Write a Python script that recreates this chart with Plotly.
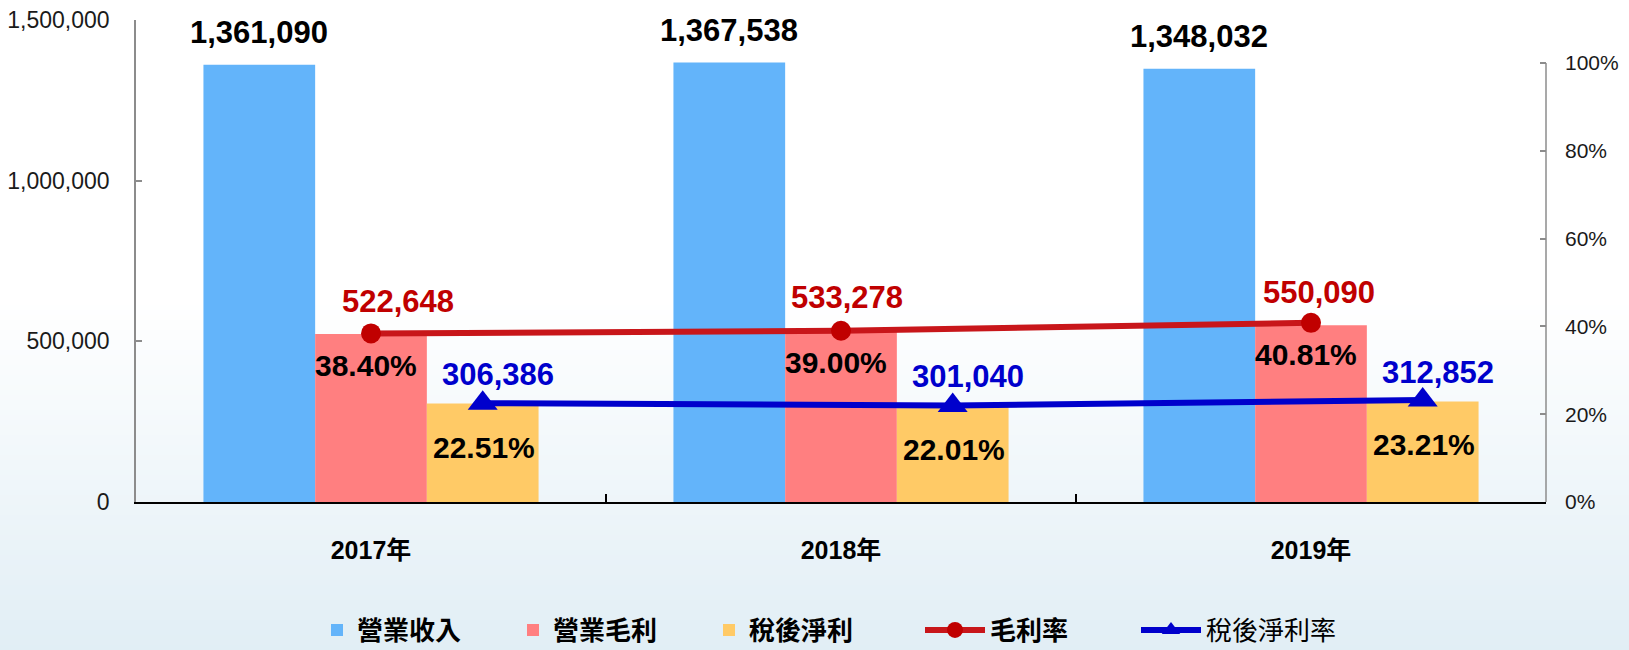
import plotly.graph_objects as go

# ---------------- data ----------------
years = ["2017年", "2018年", "2019年"]
revenue = [1361090, 1367538, 1348032]        # 營業收入
gross_profit = [522648, 533278, 550090]      # 營業毛利
net_profit = [306386, 301040, 312852]        # 稅後淨利
gross_margin = [0.3840, 0.3900, 0.4081]      # 毛利率
net_margin = [0.2251, 0.2201, 0.2321]        # 稅後淨利率
left_ticks = [0, 500000, 1000000, 1500000]
right_ticks = [0, 0.2, 0.4, 0.6, 0.8, 1.0]

# ---------------- layout constants ----------------
W, H = 1629, 650
ML, MR, MT, MB = 136, 83, 20, 148
PW, PH = W - ML - MR, H - MT - MB
BARGAP = 0.287
D = (1 - BARGAP) / 3          # width of one bar in category units
Y2MAX = 1.0 * (PH) / (502 - 63)

FONT_NUM = "Liberation Sans, Arial, sans-serif"
FONT_CJK = "Noto Sans CJK TC, sans-serif"

C_BLUE_BAR = "#63B4FA"
C_RED_BAR = "#FF7F80"
C_YEL_BAR = "#FFCA66"
C_RED_LINE = "#C8161A"
C_RED_MK = "#C00000"
C_BLUE_LINE = "#0000CC"

fig = go.Figure()

fig.add_trace(go.Bar(x=years, y=revenue, name="<b>營業收入</b>", marker=dict(color=C_BLUE_BAR, line=dict(width=0)),
                     legend="legend"))
fig.add_trace(go.Bar(x=years, y=gross_profit, name="<b>營業毛利</b>", marker=dict(color=C_RED_BAR, line=dict(width=0)),
                     legend="legend2"))
fig.add_trace(go.Bar(x=years, y=net_profit, name="<b>稅後淨利</b>", marker=dict(color=C_YEL_BAR, line=dict(width=0)),
                     legend="legend3"))
fig.add_trace(go.Scatter(x=years, y=gross_margin, name="<b>毛利率</b>", yaxis="y2", mode="lines+markers",
                         line=dict(color=C_RED_LINE, width=6),
                         marker=dict(symbol="circle", size=20, color=C_RED_MK),
                         legend="legend4"))
fig.add_trace(go.Scatter(x=years, y=net_margin, name="稅後淨利率", xaxis="x2", yaxis="y2", mode="lines+markers",
                         line=dict(color=C_BLUE_LINE, width=6),
                         marker=dict(symbol="triangle-up", size=26, color=C_BLUE_LINE),
                         legend="legend5"))

# ---------------- background gradient ----------------
shapes = []
g0, g1 = 300, 650
n = 70
top = (255, 255, 255)
bot = (225, 238, 245)
for i in range(n):
    ya = g0 + (g1 - g0) * i / n
    yb = g0 + (g1 - g0) * (i + 1) / n + 0.6
    t = (i + 0.5) / n
    col = tuple(round(top[k] + (bot[k] - top[k]) * t) for k in range(3))
    shapes.append(dict(type="rect", xref="paper", yref="paper", layer="below",
                       x0=-ML / PW - 0.01, x1=(W - ML) / PW + 0.01,
                       y0=(MT + PH - ya) / PH, y1=(MT + PH - yb) / PH,
                       line=dict(width=0), fillcolor="rgb(%d,%d,%d)" % col))
# right axis line (only spans 0%..100%)
shapes.append(dict(type="line", xref="paper", yref="y2", x0=1, x1=1, y0=0, y1=1,
                   line=dict(color="#8C8C8C", width=1.5)))

# ---------------- annotations ----------------
ann = []
red_dx = [27, 6, 8]
for i in range(len(years)):
    ann.append(dict(x=i - D, y=revenue[i], xref="x", yref="y", text="<b>{:,}</b>".format(revenue[i]),
                    showarrow=False, yshift=32, yanchor="middle",
                    font=dict(family=FONT_NUM, size=31, color="#000000")))
    ann.append(dict(x=i, y=gross_profit[i], xref="x", yref="y", text="<b>{:,}</b>".format(gross_profit[i]),
                    showarrow=False, yshift=33, xshift=red_dx[i], yanchor="middle",
                    font=dict(family=FONT_NUM, size=31, color=C_RED_MK)))
    ann.append(dict(x=i + D, y=net_profit[i], xref="x", yref="y", text="<b>{:,}</b>".format(net_profit[i]),
                    showarrow=False, yshift=29, xshift=15, yanchor="middle",
                    font=dict(family=FONT_NUM, size=31, color=C_BLUE_LINE)))
    ann.append(dict(x=i, y=gross_margin[i], xref="x", yref="y2", text="<b>{:.2f}%</b>".format(gross_margin[i] * 100),
                    showarrow=False, yshift=-32, xshift=-5, yanchor="middle",
                    font=dict(family=FONT_NUM, size=30, color="#000000")))
    ann.append(dict(x=i, y=net_margin[i], xref="x2", yref="y2", text="<b>{:.2f}%</b>".format(net_margin[i] * 100),
                    showarrow=False, yshift=-44, xshift=1, yanchor="middle",
                    font=dict(family=FONT_NUM, size=30, color="#000000")))

# ---------------- legends ----------------
LEG_Y = -(630 - (MT + PH)) / PH


def leg(px, itemwidth=30):
    return dict(x=(px - ML) / PW, y=LEG_Y, xanchor="left", yanchor="middle", orientation="h",
                bgcolor="rgba(0,0,0,0)", itemwidth=itemwidth,
                font=dict(family=FONT_CJK, size=26, color="#000000"))


fig.update_layout(
    width=W, height=H,
    margin=dict(l=ML, r=MR, t=MT, b=MB, autoexpand=False),
    paper_bgcolor="#FFFFFF", plot_bgcolor="rgba(0,0,0,0)",
    barmode="group", bargap=BARGAP, bargroupgap=0,
    shapes=shapes, annotations=ann,
    showlegend=True,
    legend=leg(317), legend2=leg(513), legend3=leg(709),
    legend4=leg(920, 60), legend5=leg(1136, 60),
    xaxis=dict(type="category", categoryorder="array", categoryarray=years, range=[-0.5, 2.5],
               tickson="boundaries", ticks="inside", ticklen=8, tickwidth=1.5, tickcolor="#000000",
               showline=True, linecolor="#000000", linewidth=1.5, showgrid=False, zeroline=False,
               ticklabelstandoff=25,
               tickfont=dict(family=FONT_NUM + ", " + FONT_CJK, size=25, color="#000000", weight="bold")),
    xaxis2=dict(type="category", categoryorder="array", categoryarray=years, overlaying="x",
                range=[-0.5 - D, 2.5 - D], visible=False),
    yaxis=dict(range=[0, 1500000], tickvals=left_ticks, tickformat=",", showline=True, linecolor="#8C8C8C",
               linewidth=1.5, ticks="inside", ticklen=6, tickwidth=1.5, tickcolor="#8C8C8C", showgrid=False,
               zeroline=False, ticklabelstandoff=20,
               tickfont=dict(family=FONT_NUM, size=23, color="#1A1A1A")),
    yaxis2=dict(range=[0, Y2MAX], tickvals=right_ticks, tickformat=".0%", overlaying="y", side="right",
                anchor="x", showline=False, ticks="inside", ticklen=6, tickwidth=1.5, tickcolor="#8C8C8C",
                showgrid=False, zeroline=False, ticklabelstandoff=18,
                tickfont=dict(family=FONT_NUM, size=21, color="#1A1A1A")),
)

fig.write_html("out.html", config={"displayModeBar": False},
               post_script="document.body.style.margin='0';document.body.style.overflow='hidden';")
